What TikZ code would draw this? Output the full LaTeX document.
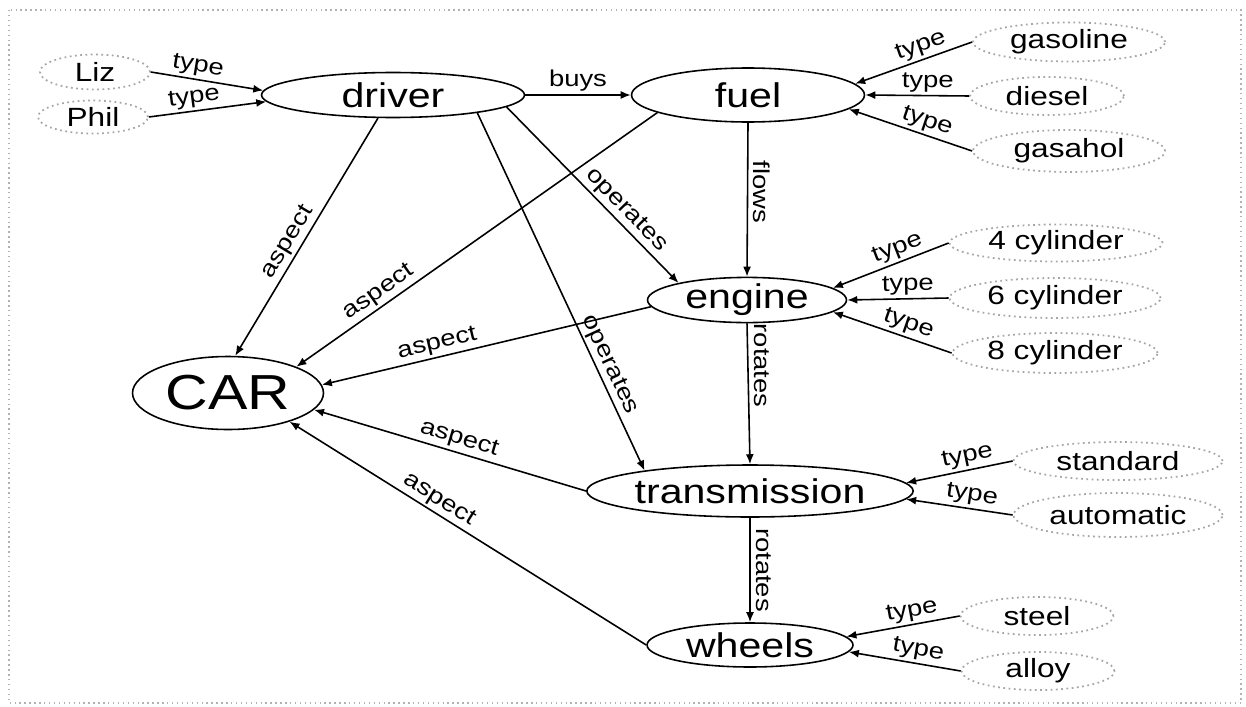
\documentclass[tikz,border=0pt]{standalone}
\usepackage{fontspec}
\setmainfont[FakeStretch=1.2]{Liberation Sans}
\usepackage{tikz}
\usetikzlibrary{shapes.geometric,arrows.meta}

\begin{document}
\begin{tikzpicture}[
		x=0.02cm, y=-0.02cm,
		concept/.style={ellipse, draw, line width=0.9pt, inner sep=0pt, font=\fontsize{19.5}{22}\selectfont},
		value/.style={ellipse, draw=gray!70, dotted, line width=1pt, inner sep=0pt, font=\fontsize{15}{17}\selectfont},
		rel/.style={-{Latex[length=2mm,width=1.6mm]}, line width=0.9pt},
		lbl/.style={sloped, above, inner sep=1.5pt, font=\fontsize{13}{15}\selectfont},
		vlbl/.style={rotate=-90, anchor=south, inner sep=3pt, font=\fontsize{13}{15}\selectfont}
	]
  \useasboundingbox (0,0) rectangle (1246,706);
  \draw[gray!60, dotted, line width=0.8pt] (9,10) rectangle (1241,703);
  % main concepts
  \node (driver) [concept, minimum width=5.26cm, minimum height=0.9cm] at (393,95) {driver};
  \node (fuel) [concept, minimum width=4.66cm, minimum height=1.08cm] at (748,95) {fuel};
  \node (engine) [concept, minimum width=3.98cm, minimum height=0.88cm] at (747,300) {engine};
  \node (trans) [concept, minimum width=6.12cm, minimum height=1.04cm] at (750,491) {transmission};
  \node (wheels) [concept, minimum width=4.12cm, minimum height=0.88cm] at (750,645) {wheels};
  \node (car) [concept, minimum width=3.82cm, minimum height=1.46cm, font=\fontsize{28}{30}\selectfont] at (228,393) {CAR};
  % values
  \node (liz) [value, minimum width=2.2cm, minimum height=0.7cm] at (95,72) {Liz};
  \node (phil) [value, minimum width=2.2cm, minimum height=0.66cm] at (93,117) {Phil};
  \node (gasoline) [value, minimum width=3.84cm, minimum height=0.78cm] at (1069,42) {gasoline};
  \node (diesel) [value, minimum width=3.08cm, minimum height=0.76cm] at (1047,96) {diesel};
  \node (gasahol) [value, minimum width=3.84cm, minimum height=0.84cm] at (1069,151) {gasahol};
  \node (cyl4) [value, minimum width=4.26cm, minimum height=0.74cm] at (1056,243) {4 cylinder};
  \node (cyl6) [value, minimum width=4.22cm, minimum height=0.8cm] at (1055,298) {6 cylinder};
  \node (cyl8) [value, minimum width=4.1cm, minimum height=0.8cm] at (1055,353) {8 cylinder};
  \node (standard) [value, minimum width=4.18cm, minimum height=0.76cm] at (1118,461) {standard};
  \node (automatic) [value, minimum width=4.18cm, minimum height=0.88cm] at (1118,515) {automatic};
  \node (steel) [value, minimum width=3.06cm, minimum height=0.76cm] at (1037,616) {steel};
  \node (alloy) [value, minimum width=3.06cm, minimum height=0.76cm] at (1038,671) {alloy};
  % relations
  \draw[rel] (driver.east) -- node[lbl] {buys} (fuel.west);
  \draw[rel] (driver.237) -- node[lbl, pos=0.55] {aspect} (car.79);
  \draw[rel] (fuel.191) -- node[lbl, pos=0.75] {aspect} (car.21);
  \draw[rel] (driver.354) -- node[lbl, pos=0.64] {operates} (engine.166);
  \draw[rel] (driver.348) -- node[lbl, pos=0.72] {operates} (trans.169);
  \draw[rel] (fuel.south) -- node[vlbl, pos=0.45] {flows} (engine.north);
  \draw[rel] (engine.184) -- node[lbl, pos=0.64] {aspect} (car.5);
  \draw[rel] (engine.south) -- node[vlbl, pos=0.3] {rotates} (trans.north);
  \draw[rel] (trans.west) -- node[lbl, pos=0.48] {aspect} (car.349);
  \draw[rel] (wheels.west) -- node[lbl, pos=0.6] {aspect} (car.335);
  \draw[rel] (trans.south) -- node[vlbl, pos=0.5] {rotates} (wheels.north);
  % types
  \draw[rel] (liz.east) -- node[lbl, pos=0.4] {type} (driver.178);
  \draw[rel] (phil.east) -- node[lbl, pos=0.4] {type} (driver.183);
  \draw[rel] (gasoline.west) -- node[lbl, pos=0.4] {type} (fuel.6);
  \draw[rel] (diesel.west) -- node[lbl, pos=0.4] {type} (fuel.east);
  \draw[rel] (gasahol.west) -- node[lbl, pos=0.4] {type} (fuel.352);
  \draw[rel] (cyl4.west) -- node[lbl, pos=0.4] {type} (engine.8);
  \draw[rel] (cyl6.west) -- node[lbl, pos=0.4] {type} (engine.east);
  \draw[rel] (cyl8.west) -- node[lbl, pos=0.4] {type} (engine.352);
  \draw[rel] (standard.west) -- node[lbl, pos=0.4] {type} (trans.3);
  \draw[rel] (automatic.west) -- node[lbl, pos=0.4] {type} (trans.357);
  \draw[rel] (steel.west) -- node[lbl, pos=0.4] {type} (wheels.5);
  \draw[rel] (alloy.west) -- node[lbl, pos=0.4] {type} (wheels.356);
\end{tikzpicture}
\end{document}
